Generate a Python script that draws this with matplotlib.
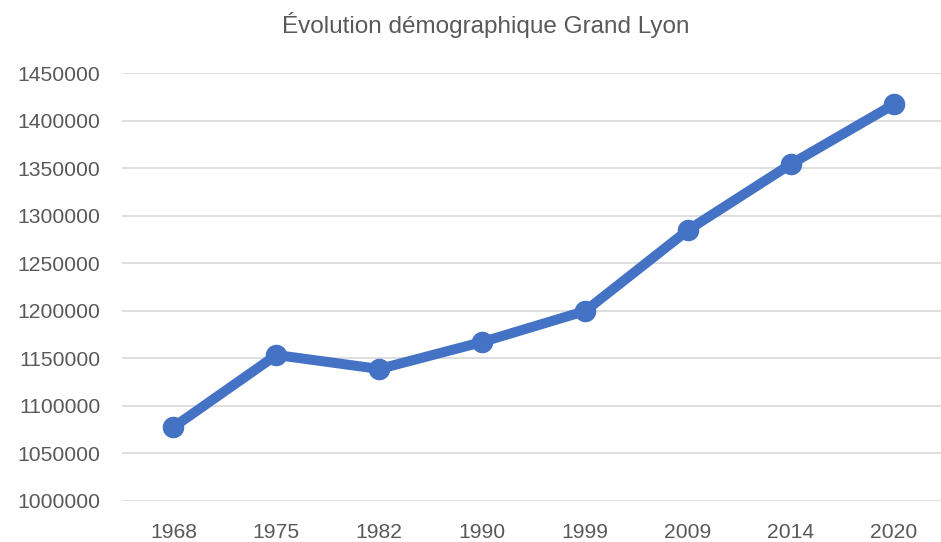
import matplotlib
matplotlib.use("Agg")
import matplotlib.pyplot as plt

# donnees
annees = ["1968", "1975", "1982", "1990", "1999", "2009", "2014", "2020"]
population = [1077500, 1153400, 1138700, 1167100, 1199700, 1285000, 1354500, 1417300]
yticks = list(range(1000000, 1450001, 50000))

bleu = "#4472C4"
gris_texte = "#595959"
gris_grille = "#D9D9D9"

plt.rcParams['font.family'] = ['Liberation Sans', 'DejaVu Sans']

W, H = 941, 542
fig = plt.figure(figsize=(W / 100, H / 100), dpi=100)
# zone de trace en pixels : x 122 -> 941, y 73.3 -> 500.7
ax = fig.add_axes([122 / W, (H - 500.7) / H, (W - 122) / W, 427.4 / H])

x = list(range(len(annees)))
ax.plot(x, population, color=bleu, lw=7.2, marker='o', ms=14.5,
        solid_capstyle='round', zorder=3, clip_on=False)

ax.set_xlim(-0.5, 7.457)
ax.set_ylim(1000000, 1450000)
ax.set_yticks(yticks)
ax.set_yticklabels([str(v) for v in yticks])
ax.set_xticks(x)
ax.set_xticklabels(annees)

ax.grid(axis='y', color=gris_grille, lw=1.2)
ax.set_axisbelow(True)
for s in ax.spines.values():
    s.set_visible(False)
ax.tick_params(length=0, labelsize=15.2, colors=gris_texte)
ax.tick_params(axis='y', pad=15.5)
ax.tick_params(axis='x', pad=16)

fig.text(486 / W, 1 - 25 / H, "Évolution démographique Grand Lyon",
         ha='center', va='center', fontsize=17.5, color=gris_texte)

fig.savefig("out.png", dpi=100)
